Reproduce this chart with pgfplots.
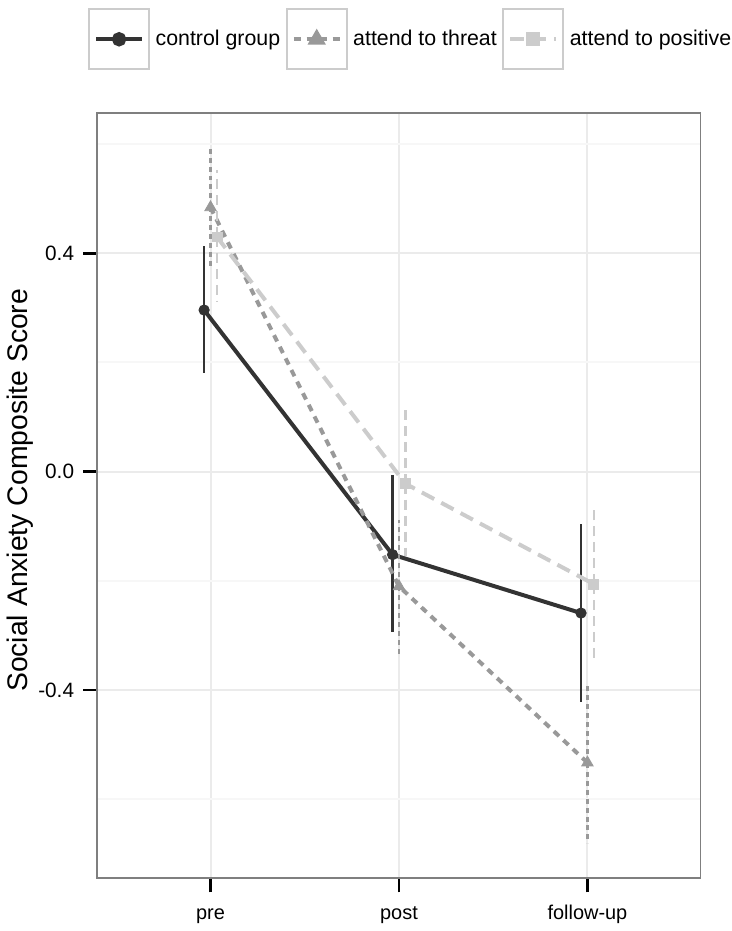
\documentclass[border=0pt]{standalone}
\usepackage{fontspec}
\setmainfont{Liberation Sans}
\usepackage{pgfplots}
\usepackage{pgfplotstable}
\pgfplotsset{compat=1.18}
\definecolor{ctrl}{HTML}{333333}
\definecolor{threat}{HTML}{999999}
\definecolor{posit}{HTML}{CCCCCC}
\definecolor{gridmaj}{HTML}{EBEBEB}
\definecolor{gridmin}{HTML}{F7F7F7}
\definecolor{panelborder}{HTML}{7F7F7F}
\definecolor{legbox}{HTML}{CCCCCC}

% x already dodged: control -0.034, threat 0, positive +0.034
\pgfplotstableread{
x      y       ep     em
0.966  0.296   0.117  0.115
1.966  -0.152  0.145  0.142
2.966  -0.259  0.164  0.163
}\ctrldata
\pgfplotstableread{
x      y       ep     em
1.000  0.484   0.110  0.113
2.000  -0.210  0.121  0.126
3.000  -0.533  0.145  0.148
}\threatdata
\pgfplotstableread{
x      y       ep     em
1.034  0.430   0.122  0.119
2.034  -0.022  0.144  0.133
3.034  -0.206  0.142  0.136
}\positdata

\pgfplotsset{
  ctrlline/.style={color=ctrl, line width=2pt, solid},
  threatline/.style={color=threat, line width=2pt, dash pattern=on 3.5pt off 3pt},
  positline/.style={color=posit, line width=2pt, dash pattern=on 7pt off 4pt},
  ctrlmark/.style={color=ctrl, mark=*, mark size=2.6pt, mark options={solid, fill=ctrl}},
  threatmark/.style={color=threat, mark=triangle*, mark size=3.3pt, mark options={solid, fill=threat}},
  positmark/.style={color=posit, mark=square*, mark size=2.5pt, mark options={solid, fill=posit}},
  boxkey/.style={legend image code/.code={
    \draw[draw=legbox, line width=1pt, solid, fill=white] (0pt,-15pt) rectangle (30pt,15pt);
    \draw[mark repeat=2, mark phase=2, ##1] plot coordinates {(3.5pt,0pt) (15pt,0pt) (26.5pt,0pt)};
  }},
}

\begin{document}
\begin{tikzpicture}
\begin{axis}[
  scale only axis, width=302.3pt, height=383.7pt,
  xmin=0.4, xmax=3.6, ymin=-0.745, ymax=0.657,
  xtick={1,2,3}, xticklabels={pre,post,follow-up},
  ytick={-0.4,0,0.4}, yticklabels={-0.4,0.0,0.4},
  minor ytick={-0.6,-0.2,0.2,0.6},
  xmajorgrids, ymajorgrids, yminorgrids,
  major grid style={color=gridmaj, line width=1pt},
  minor grid style={color=gridmin, line width=1pt},
  tick align=outside, tick pos=left,
  major tick length=7pt, minor tick length=0pt,
  every tick/.style={black, line width=1.4pt},
  axis line style={color=panelborder, line width=1pt},
  xticklabel style={font=\fontsize{10}{12}\selectfont, text height=0.75em, text depth=0.25em, yshift=-2.5pt},
  yticklabel style={font=\fontsize{10.4}{12}\selectfont, xshift=-1.2pt},
  ylabel={Social Anxiety Composite Score},
  ylabel style={font=\fontsize{14.2}{17}\selectfont, at={(axis description cs:-0.1285,0.507)}, anchor=center},
  legend columns=3,
  legend style={at={(axis description cs:-0.016,1.1372)}, anchor=north west,
    draw=none, fill=none, inner sep=0pt, column sep=2.8pt,
    nodes={inner sep=0pt}, font=\fontsize{10.7}{12}\selectfont},
  clip=false,
]
\path (rel axis cs:-0.1616,-0.0655) rectangle (rel axis cs:1.0458,1.1476);

\addlegendimage{boxkey, ctrlline, ctrlmark}
\addlegendentry{control group}
\addlegendimage{boxkey, threatline, threatmark}
\addlegendentry{attend to threat}
\addlegendimage{boxkey, positline, positmark}
\addlegendentry{attend to positive}

\addplot[ctrlline, forget plot, error bars/.cd, y dir=both, y explicit, error mark=none,
  error bar style={line width=1.3pt, solid}]
  table[x=x, y=y, y error plus=ep, y error minus=em] {\ctrldata};
\addplot[threatline, forget plot, error bars/.cd, y dir=both, y explicit, error mark=none,
  error bar style={line width=1.3pt, dash pattern=on 2.5pt off 2pt}]
  table[x=x, y=y, y error plus=ep, y error minus=em] {\threatdata};
\addplot[positline, forget plot, error bars/.cd, y dir=both, y explicit, error mark=none,
  error bar style={line width=1.3pt, dash pattern=on 5pt off 3pt}]
  table[x=x, y=y, y error plus=ep, y error minus=em] {\positdata};

\addplot[ctrlmark, only marks, forget plot] table[x=x, y=y] {\ctrldata};
\addplot[threatmark, only marks, forget plot] table[x=x, y=y] {\threatdata};
\addplot[positmark, only marks, forget plot] table[x=x, y=y] {\positdata};
\end{axis}
\end{tikzpicture}
\end{document}
